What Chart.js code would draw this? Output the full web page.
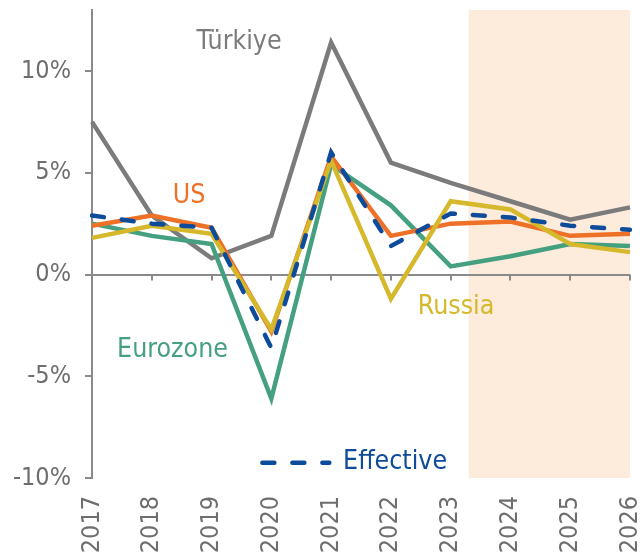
<!DOCTYPE html>
<html>
<head>
<meta charset="utf-8">
<script src="https://cdn.jsdelivr.net/npm/chart.js@4"></script>
<style>
  body { margin: 0; background: #fff; }
</style>
</head>
<body>
<canvas id="growthChart" width="640" height="555"></canvas>
<script>
const years = ['2017', '2018', '2019', '2020', '2021', '2022', '2023', '2024', '2025', '2026'];
const turkiye = [7.5, 2.9, 0.8, 1.9, 11.4, 5.5, 4.5, 3.6, 2.7, 3.3];
const us = [2.4, 2.9, 2.3, -2.8, 5.8, 1.9, 2.5, 2.6, 1.9, 2.0];
const eurozone = [2.5, 1.9, 1.5, -6.1, 5.4, 3.4, 0.4, 0.9, 1.5, 1.4];
const russia = [1.8, 2.4, 2.0, -2.7, 5.6, -1.2, 3.6, 3.2, 1.5, 1.1];
const effective = [2.9, 2.5, 2.3, -3.6, 6.0, 1.4, 3.0, 2.8, 2.4, 2.2];
const yTicks = [-10, -5, 0, 5, 10];
const forecastFrom = 6.3; // shaded forecast area starts a bit after 2023

const axisGrey = '#8a8a8a';
const textGrey = '#6e6e6e';
const colors = {
  turkiye: '#7b7b7b',
  us: '#ee7127',
  eurozone: '#45a080',
  russia: '#d5b82b',
  effective: '#0d4b9b'
};

Chart.defaults.font.family = '"DejaVu Sans Condensed", "DejaVu Sans", sans-serif';
Chart.defaults.font.size = 25;
Chart.defaults.color = textGrey;

// labels placed in data space: x = category index, y = value (left aligned, middle)
const seriesLabels = [
  { text: 'Türkiye', color: colors.turkiye, x: 1.75, y: 11.4 },
  { text: 'US', color: colors.us, x: 1.35, y: 3.85 },
  { text: 'Russia', color: colors.russia, x: 5.45, y: -1.6 },
  { text: 'Eurozone', color: colors.eurozone, x: 0.42, y: -3.7 },
  { text: 'Effective', color: colors.effective, x: 4.2, y: -9.2, dash: [2.85, 3.97] }
];

const decorations = {
  id: 'decorations',
  beforeDraw(chart) {
    const { ctx, chartArea, scales } = chart;
    // forecast shading
    const x0 = scales.x.getPixelForValue(forecastFrom);
    ctx.save();
    ctx.fillStyle = '#fdebdb';
    ctx.fillRect(x0, chartArea.top, chartArea.right - x0, chartArea.bottom - chartArea.top);
    ctx.restore();
  },
  beforeDatasetsDraw(chart) {
    const { ctx, scales } = chart;
    // tick marks hanging off the zero line
    const y0 = scales.y.getPixelForValue(0);
    ctx.save();
    ctx.strokeStyle = axisGrey;
    ctx.lineWidth = 2;
    ctx.beginPath();
    for (let i = 1; i < years.length; i++) {
      const x = Math.round(scales.x.getPixelForValue(i));
      ctx.moveTo(x, y0);
      ctx.lineTo(x, y0 + 6);
    }
    ctx.stroke();
    ctx.restore();
  },
  afterDraw(chart) {
    const { ctx, scales } = chart;
    ctx.save();
    ctx.font = '26.5px ' + Chart.defaults.font.family;
    ctx.textAlign = 'left';
    ctx.textBaseline = 'middle';
    seriesLabels.forEach(l => {
      const x = scales.x.getPixelForValue(l.x);
      const y = scales.y.getPixelForValue(l.y);
      if (l.dash) {
        ctx.strokeStyle = l.color;
        ctx.lineWidth = 4.5;
        ctx.lineCap = 'round';
        ctx.setLineDash([12, 18]);
        ctx.beginPath();
        ctx.moveTo(scales.x.getPixelForValue(l.dash[0]), y + 1);
        ctx.lineTo(scales.x.getPixelForValue(l.dash[1]), y + 1);
        ctx.stroke();
        ctx.setLineDash([]);
      }
      ctx.fillStyle = l.color;
      ctx.fillText(l.text, x, y);
    });
    ctx.restore();
  }
};

function line(label, data, color, order, dashed) {
  return {
    label,
    data,
    borderColor: color,
    backgroundColor: color,
    borderWidth: 4.5,
    borderDash: dashed ? [12, 18] : [],
    borderCapStyle: dashed ? 'round' : 'butt',
    borderJoinStyle: 'miter',
    pointRadius: 0,
    tension: 0,
    fill: false,
    order
  };
}

new Chart(document.getElementById('growthChart'), {
  type: 'line',
  data: {
    labels: years,
    datasets: [
      line('Türkiye', turkiye, colors.turkiye, 4),
      line('Eurozone', eurozone, colors.eurozone, 3),
      line('US', us, colors.us, 2),
      line('Russia', russia, colors.russia, 1),
      line('Effective', effective, colors.effective, 0, true)
    ]
  },
  options: {
    responsive: false,
    animation: false,
    layout: { padding: { top: 10, right: 10, left: 0, bottom: 0 } },
    plugins: {
      legend: { display: false },
      tooltip: { enabled: false }
    },
    scales: {
      x: {
        offset: false,
        grid: { display: false, drawTicks: false },
        border: { display: false },
        ticks: {
          autoSkip: false,
          minRotation: 90,
          maxRotation: 90,
          padding: 18,
          color: textGrey
        },
        afterFit(scale) {
          scale.height = 77;
          scale.paddingLeft = 0;
          scale.paddingRight = 0;
        }
      },
      y: {
        min: -10,
        max: 13,
        ticks: {
          stepSize: 5,
          padding: 14,
          color: textGrey,
          callback: v => v + '%'
        },
        afterBuildTicks(scale) {
          scale.ticks = yTicks.map(v => ({ value: v }));
        },
        grid: {
          drawOnChartArea: true,
          color: ctx => (ctx.tick && ctx.tick.value === 0 ? axisGrey : 'rgba(0,0,0,0)'),
          tickColor: axisGrey,
          tickLength: 7,
          lineWidth: 2
        },
        border: { display: true, color: axisGrey, width: 2 },
        afterFit(scale) {
          scale.width = 92;
          scale.paddingTop = 0;
          scale.paddingBottom = 0;
        }
      }
    }
  },
  plugins: [decorations]
});
</script>
</body>
</html>
